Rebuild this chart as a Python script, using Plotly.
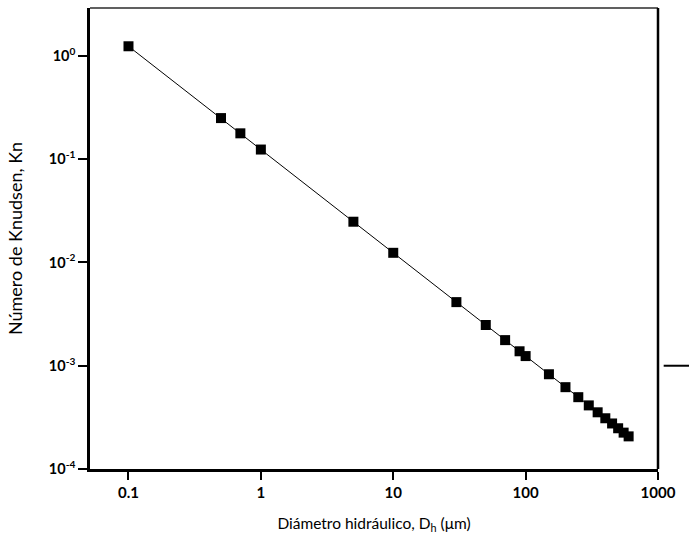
import plotly.graph_objects as go
import numpy as np

# Data
diam_um = [0.1, 0.5, 0.7, 1, 5, 10, 30, 50, 70, 90, 100, 150, 200, 250, 300,
           350, 400, 450, 500, 550, 600]
knudsen = [1.24, 0.25, 0.178, 0.124, 0.0248, 0.0124, 0.00413, 0.00248, 0.00177,
           0.00138, 0.00124, 0.000827, 0.00062, 0.000496, 0.000413, 0.000354,
           0.00031, 0.000276, 0.000248, 0.000225, 0.000207]

x_tickvals = [0.1, 1, 10, 100, 1000]
x_ticktext = ["0.1", "1", "10", "100", "1000"]
y_tickvals = [1, 0.1, 0.01, 0.001, 0.0001]
y_ticktext = ["10<sup>0</sup>", "10<sup>-1</sup>", "10<sup>-2</sup>", "10<sup>-3</sup>", "10<sup>-4</sup>"]

font_family = "Lato, Open Sans, sans-serif"

fig = go.Figure()
fig.add_trace(go.Scatter(
    x=diam_um, y=knudsen, mode="lines+markers",
    line=dict(color="black", width=1),
    marker=dict(symbol="square", size=10, color="black"),
    showlegend=False,
))

fig.update_layout(
    width=689, height=549,
    margin=dict(l=90, r=31, t=8, b=80),
    paper_bgcolor="white", plot_bgcolor="white",
    font=dict(family=font_family, color="black", size=12),
    xaxis=dict(
        type="log", range=[np.log10(0.0512), 3],
        tickvals=x_tickvals, ticktext=x_ticktext,
        ticks="outside", ticklen=8, tickwidth=2, tickcolor="black",
        showline=True, linewidth=2.5, linecolor="black",
        showgrid=False, zeroline=False,
        tickfont=dict(size=15, weight="bold"),
        title=dict(text="Diámetro hidráulico, D<sub>h</sub> (μm)", font=dict(size=15.5), standoff=19),
    ),
    yaxis=dict(
        type="log", range=[-4, 0.464],
        tickvals=y_tickvals, ticktext=y_ticktext,
        ticks="outside", ticklen=9, tickwidth=1.5, tickcolor="black",
        showline=True, linewidth=2.5, linecolor="black",
        showgrid=False, zeroline=False,
        tickfont=dict(size=14.5, weight="bold"),
        title=dict(text="Número de Knudsen, Kn", font=dict(size=18), standoff=22),
    ),
)

# top (thin gray) and right (thick black) frame
fig.add_shape(type="line", xref="paper", yref="paper", x0=0, x1=1, y0=1, y1=1,
              line=dict(color="#606060", width=2))
fig.add_shape(type="line", xref="paper", yref="paper", x0=1, x1=1, y0=0, y1=1,
              line=dict(color="black", width=2.5))
# stray segment from the neighbouring figure at the right edge
fig.add_shape(type="line", xref="paper", yref="y", x0=1.01, x1=1.06, y0=0.001, y1=0.001,
              line=dict(color="black", width=2))

fig.write_html("out.html")
